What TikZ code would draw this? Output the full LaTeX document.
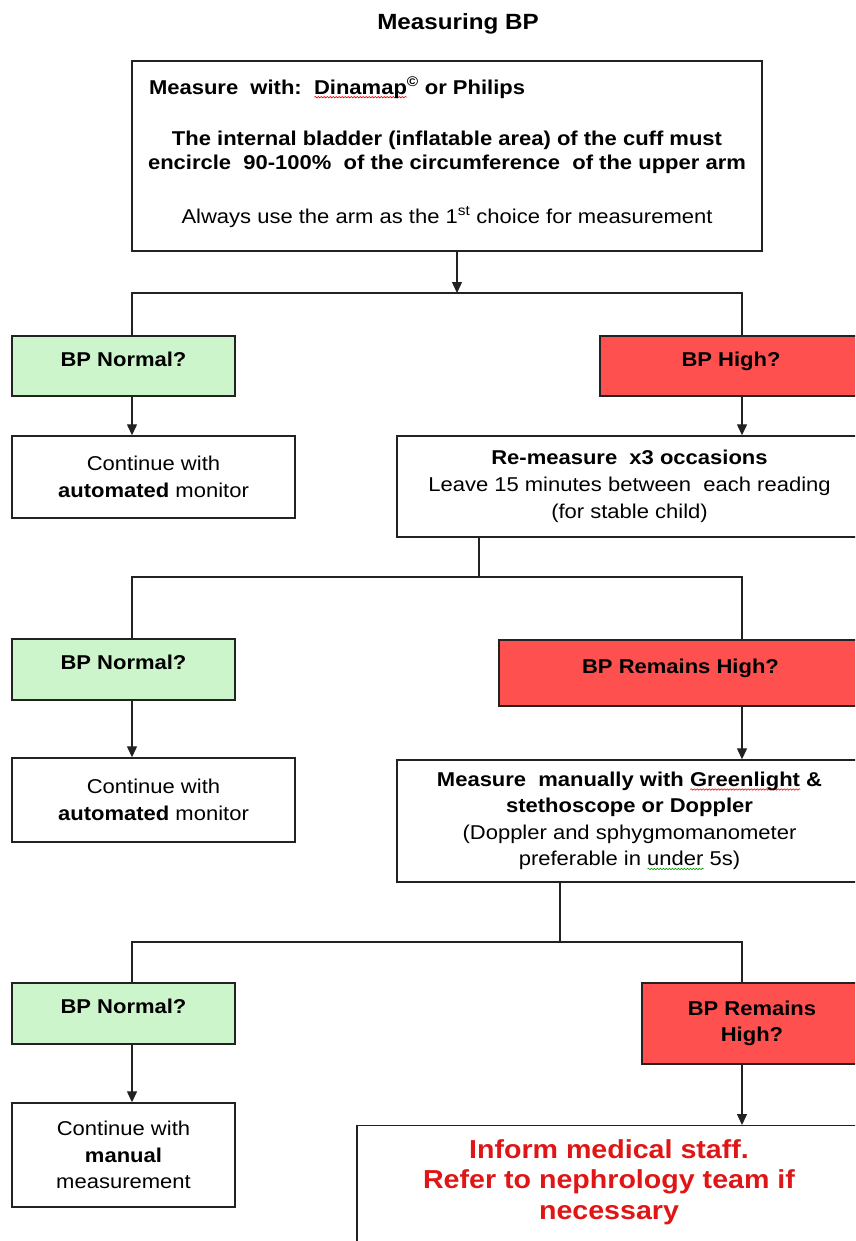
\documentclass[tikz,border=0pt]{standalone}
\usepackage{fontspec}
\setmainfont{Liberation Sans}[FakeStretch=1.1]
\usetikzlibrary{arrows.meta,decorations.pathmorphing,calc}
\definecolor{gfill}{HTML}{CCF5CC}
\definecolor{rfill}{HTML}{FF5050}
\definecolor{itext}{HTML}{E01515}
\definecolor{lc}{HTML}{222222}
\newlength\sqwidth
\newcommand\squig[2]{\settowidth\sqwidth{#2}\rlap{\raisebox{-4pt}{\tikz\draw[#1,line width=0.6pt,decorate,decoration={snake,amplitude=0.7pt,segment length=3pt}] (0,0) -- (\sqwidth,0);}}#2}
\tikzset{
  box/.style={draw=lc, line width=1.4pt, inner sep=0pt, align=center, font=\fontsize{20}{27}\selectfont},
  gbox/.style={box, fill=gfill, font=\bfseries\fontsize{20}{26}\selectfont},
  rbox/.style={box, fill=rfill, font=\bfseries\fontsize{20}{26}\selectfont},
  oneline/.style={text height=10pt, text depth=10pt},
  conn/.style={draw=lc, line width=1.3pt},
  arr/.style={conn, -{Triangle[length=11pt,width=10pt]}}
}
\begin{document}
\begin{tikzpicture}[x=1pt,y=-1pt]
\useasboundingbox (0,0) rectangle (855,1241);
\clip (0,0) rectangle (855,1241);
\fill[white] (0,0) rectangle (855,1241);

\node[font=\bfseries\fontsize{22}{26}\selectfont] (title) at (458,24) {Measuring BP};

\node[box, minimum width=630pt, minimum height=190pt, font=\fontsize{20}{24}\selectfont] (top) at (447,156)
 {\makebox[596pt][l]{\bfseries Measure\ \ with:\ \ \squig{red}{Dinamap}\textsuperscript{\textcopyright}\ or Philips}\\[27pt]
  \bfseries The internal bladder (inflatable area) of the cuff must\\
  \bfseries encircle\ \ 90-100\%\ \ of the circumference\ \ of the upper arm\\[30pt]
  Always use the arm as the 1\textsuperscript{st} choice for measurement\\[-12pt]\mbox{}};

% column coordinates
\coordinate (xl) at (132,0);
\coordinate (xr) at (742,0);
\coordinate (j1) at (457,293);
\coordinate (j2) at (479,577);
\coordinate (j3) at (560,942);

% level 1
\node[gbox, oneline, minimum width=223pt, minimum height=60pt] (g1) at (123.5,366) {BP Normal?};
\node[rbox, oneline, minimum width=262pt, minimum height=60pt] (r1) at (731,366) {BP High?};
\node[box, minimum width=283pt, minimum height=82pt] (c1) at (153.5,477) {Continue with\\\textbf{automated} monitor};
\node[box, minimum width=465pt, minimum height=101pt] (rm) at (629.5,486.5)
 {\textbf{Re-measure\ \ x3 occasions}\\Leave 15 minutes between\ \ each reading\\(for stable child)};

% level 2
\node[gbox, oneline, minimum width=223pt, minimum height=61pt] (g2) at (123.5,669.5) {BP Normal?};
\node[rbox, oneline, minimum width=363pt, minimum height=66pt] (r2) at (680.5,673) {BP Remains High?};
\node[box, minimum width=283pt, minimum height=84pt] (c2) at (153.5,800) {Continue with\\\textbf{automated} monitor};
\node[box, minimum width=465pt, minimum height=122pt, font=\fontsize{20}{26.5}\selectfont] (mm) at (629.5,821)
 {\textbf{Measure\ \ manually with \squig{red}{Greenlight} \&}\\\textbf{stethoscope or Doppler}\\(Doppler and sphygmomanometer\\preferable in \squig{green!60!black}{under} 5s)};

% level 3
\node[gbox, oneline, minimum width=223pt, minimum height=61pt] (g3) at (123.5,1013.5) {BP Normal?};
\node[rbox, minimum width=220pt, minimum height=81pt] (r3) at (752,1023.5) {BP Remains\\High?};
\node[box, minimum width=223pt, minimum height=104pt, font=\fontsize{20}{26.5}\selectfont] (c3) at (123.5,1155) {Continue with\\\textbf{manual}\\measurement};
\node[box, anchor=north, minimum width=504pt, minimum height=160pt] (inf) at (609,1125) {};
\node[font=\bfseries\fontsize{26}{30.5}\selectfont, text=itext, align=center] (inftxt) at (609,1182)
 {Inform medical staff.\\Refer to nephrology team if\\necessary};

% connectors
\draw[arr] (top.south -| j1) -- (j1);
\draw[conn] (g1.north -| xl) -- (xl |- j1) -- (xr |- j1) -- (r1.north -| xr);
\draw[arr] (g1.south -| xl) -- (c1.north -| xl);
\draw[arr] (r1.south -| xr) -- (rm.north -| xr);

\draw[conn] (rm.south -| j2) -- (j2);
\draw[conn] (g2.north -| xl) -- (xl |- j2) -- (xr |- j2) -- (r2.north -| xr);
\draw[arr] (g2.south -| xl) -- (c2.north -| xl);
\draw[arr] (r2.south -| xr) -- (mm.north -| xr);

\draw[conn] (mm.south -| j3) -- (j3);
\draw[conn] (g3.north -| xl) -- (xl |- j3) -- (xr |- j3) -- (r3.north -| xr);
\draw[arr] (g3.south -| xl) -- (c3.north -| xl);
\draw[arr] (r3.south -| xr) -- (inf.north -| xr);
\end{tikzpicture}
\end{document}
